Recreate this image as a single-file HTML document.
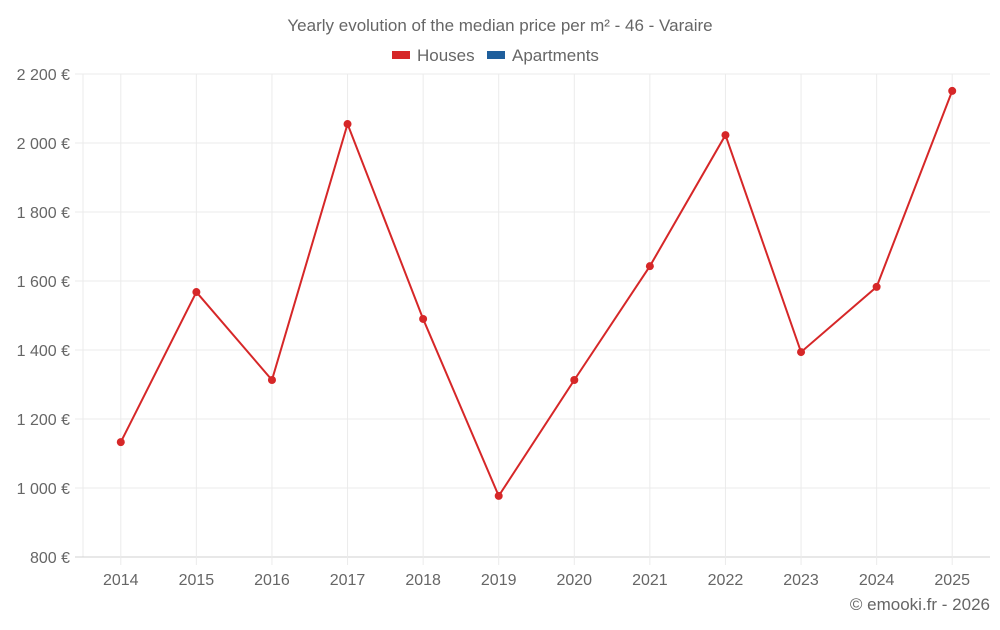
<!DOCTYPE html>
<html><head><meta charset="utf-8"><style>
body{margin:0;background:#fff;font-family:"Liberation Sans",sans-serif;}
svg text{font-family:"Liberation Sans",sans-serif;fill:#666;}
</style></head><body>
<svg id="chart" width="1000" height="625" xmlns="http://www.w3.org/2000/svg">
<text x="500" y="31" text-anchor="middle" font-size="17">Yearly evolution of the median price per m² - 46 - Varaire</text>
<g>
<g><rect x="392" y="51" width="18" height="8" fill="#d62728"/><text x="417" y="61" font-size="17">Houses</text></g>
<g><rect x="487" y="51" width="18" height="8" fill="#1f5f9c"/><text x="512" y="61" font-size="17">Apartments</text></g>
</g>
<g id="grid"></g>
<g id="axes"></g>
<g id="series"></g>
<text x="990" y="610" text-anchor="end" font-size="17">© emooki.fr - 2026</text>
</svg>
<script>
const years=["2014","2015","2016","2017","2018","2019","2020","2021","2022","2023","2024","2025"];
const houses=[1133,1568,1313,2055,1490,977,1313,1643,2023,1394,1583,2151];
const yTicks=[800,1000,1200,1400,1600,1800,2000,2200];
const yTickLabels=["800 €","1 000 €","1 200 €","1 400 €","1 600 €","1 800 €","2 000 €","2 200 €"];
const NS="http://www.w3.org/2000/svg";
const L=83,R=990,T=74,B=557,yMin=800,yMax=2200;
const band=(R-L)/years.length;
const x=i=>L+band*(i+0.5);
const y=v=>B-(v-yMin)/(yMax-yMin)*(B-T);
function mk(tag,attrs,parent){const e=document.createElementNS(NS,tag);for(const k in attrs)e.setAttribute(k,attrs[k]);parent.appendChild(e);return e;}
const grid=document.getElementById('grid'),axes=document.getElementById('axes'),series=document.getElementById('series');
const lv=mk('line',{x1:L,x2:L,y1:T,y2:B,stroke:'#ebebeb'},grid);


yTicks.forEach((t,i)=>{
 const l=mk('line',{x1:L-8,x2:R,y1:y(t),y2:y(t),stroke:i==0?'#d0d0d0':'#ebebeb','stroke-width':1},grid);
 
 
 const tx=mk('text',{x:70,y:y(t)+6,'text-anchor':'end','font-size':16},axes);
 tx.textContent=yTickLabels[i];
 
 
});
years.forEach((yr,i)=>{
 const l=mk('line',{x1:x(i),x2:x(i),y1:T,y2:B+8,stroke:'#ebebeb','stroke-width':1},grid);
 
 
 const tx=mk('text',{x:x(i),y:585,'text-anchor':'middle','font-size':16},axes);
 tx.textContent=yr;
 
 
});
const pl=mk('polyline',{points:houses.map((v,i)=>x(i)+','+y(v)).join(' '),fill:'none',stroke:'#d62728','stroke-width':2},series);


houses.forEach((v,i)=>{
 const c=mk('circle',{cx:x(i),cy:y(v),r:4,fill:'#d62728'},series);
 
 
});
</script>
</body></html>
